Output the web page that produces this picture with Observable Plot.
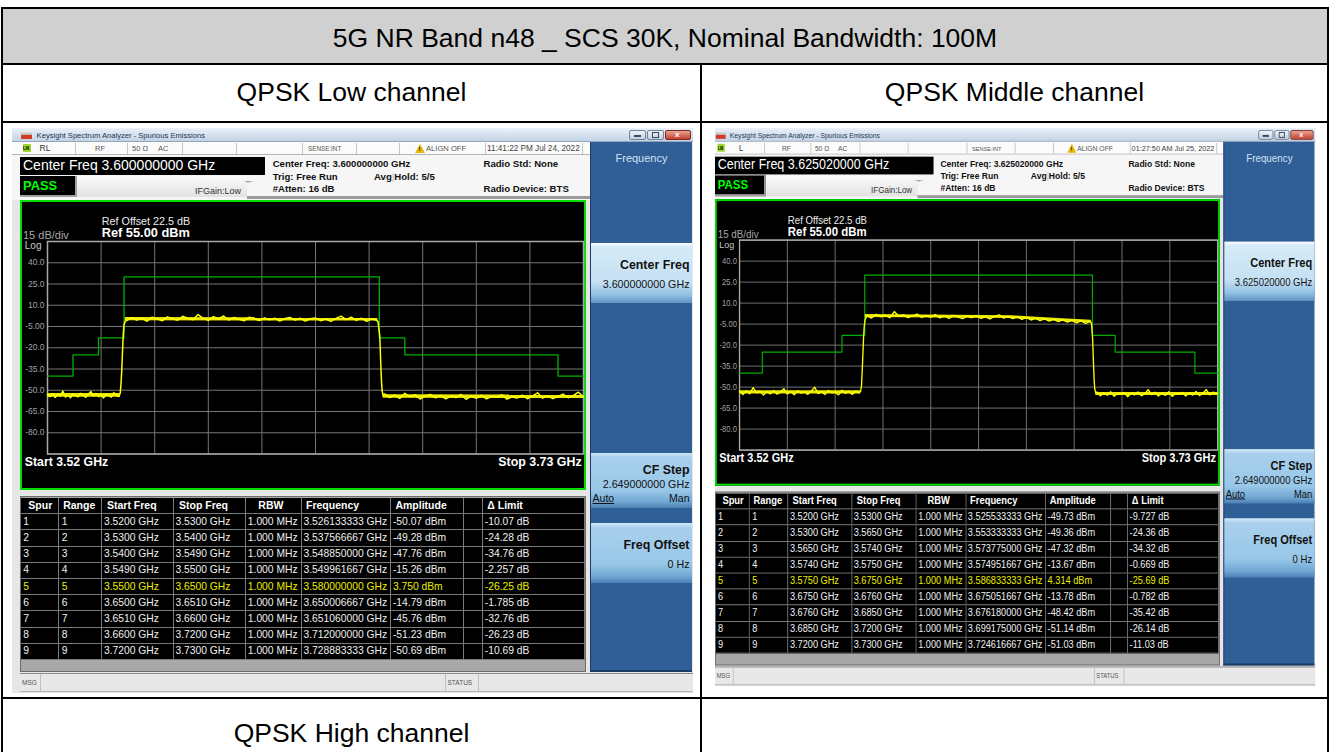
<!DOCTYPE html>
<html>
<head>
<meta charset="utf-8">
<script src="https://cdn.jsdelivr.net/npm/d3@7"></script>
<script src="https://cdn.jsdelivr.net/npm/@observablehq/plot@0.6"></script>
<style>
html,body{margin:0;padding:0;background:#fff;}
body{width:1340px;height:752px;overflow:hidden;font-family:"Liberation Sans",Arial,Helvetica,sans-serif;}
#page{position:relative;width:1340px;height:752px;overflow:hidden;}
</style>
</head>
<body>
<div id="page"></div>
<script>
// ================= DATA =================
const chartTitle = "5G NR Band n48 _ SCS 30K, Nominal Bandwidth: 100M";
const cellTitles = ["QPSK Low channel", "QPSK Middle channel", "QPSK High channel"];

const xGridTicks = [3.520, 3.541, 3.562, 3.583, 3.604, 3.625, 3.646, 3.667, 3.688, 3.709, 3.730];
const yGridTicks = [55, 40, 25, 10, -5, -20, -35, -50, -65, -80, -95];
const yTickValues = [40, 25, 10, -5, -20, -35, -50, -65, -80];
const yTickLabels = ["40.0", "25.0", "10.0", "-5.00", "-20.0", "-35.0", "-50.0", "-65.0", "-80.0"];

const tableHeader = ["Spur", "Range", "Start Freq", "Stop Freq", "RBW", "Frequency", "Amplitude", "", "\u0394 Limit"];
const rbwText = "1.000 MHz";

// Low channel
const lowCenter = "3.600000000";
const lowTime = "11:41:22 PM Jul 24, 2022";
const lowStart = ["3.5200", "3.5300", "3.5400", "3.5490", "3.5500", "3.6500", "3.6510", "3.6600", "3.7200"];
const lowStop = ["3.5300", "3.5400", "3.5490", "3.5500", "3.6500", "3.6510", "3.6600", "3.7200", "3.7300"];
const lowPeakFreq = ["3.526133333", "3.537566667", "3.548850000", "3.549961667", "3.580000000", "3.650006667", "3.651060000", "3.712000000", "3.728883333"];
const lowAmp = ["-50.07", "-49.28", "-47.76", "-15.26", "3.750", "-14.79", "-45.76", "-51.23", "-50.69"];
const lowDelta = ["-10.07", "-24.28", "-34.76", "-2.257", "-26.25", "-1.785", "-32.76", "-26.23", "-10.69"];
const lowLimit = [-40, -25, -13, -13, 30, -13, -13, -25, -40];
// dense core of the noise trace (freq, low, high, segment)
const lowBand = [
  {f: 3.5200, lo: -54.9, hi: -52.3, seg: 0}, {f: 3.5485, lo: -54.9, hi: -52.3, seg: 0},
  {f: 3.5505, lo: -1.0, hi: 1.3, seg: 1}, {f: 3.6494, lo: -1.2, hi: 1.1, seg: 1},
  {f: 3.6515, lo: -55.7, hi: -53.2, seg: 2}, {f: 3.7300, lo: -55.9, hi: -53.4, seg: 2}
];
const lowTrace = [
  [3.520,-53.2],[3.521,-54.6],[3.522,-52.4],[3.523,-55.1],[3.524,-53.0],[3.525,-54.2],[3.526,-50.6],[3.527,-54.8],
  [3.528,-53.4],[3.529,-55.3],[3.530,-52.6],[3.531,-53.9],[3.532,-54.7],[3.533,-52.2],[3.534,-53.6],[3.535,-55.0],
  [3.536,-52.9],[3.537,-50.9],[3.538,-54.1],[3.539,-52.3],[3.540,-54.5],[3.541,-53.3],[3.542,-55.4],[3.543,-52.5],
  [3.544,-53.8],[3.545,-54.9],[3.546,-51.7],[3.547,-53.7],[3.548,-54.4],
  [3.5485,-52.0],[3.5488,-45.5],[3.5491,-36.0],[3.5494,-22.0],[3.5497,-10.0],[3.5500,-3.5],[3.5505,-1.2],
  [3.551,-0.8],[3.553,1.2],[3.555,-0.5],[3.557,0.9],[3.559,-1.3],[3.561,1.6],[3.563,0.2],[3.565,-0.9],
  [3.567,1.8],[3.569,0.4],[3.571,-0.6],[3.573,2.2],[3.575,0.7],[3.577,-0.3],[3.579,3.4],[3.581,0.8],
  [3.583,-0.7],[3.585,1.9],[3.587,0.3],[3.589,2.4],[3.591,-0.4],[3.593,1.3],[3.595,0.1],[3.597,-1.0],
  [3.599,1.5],[3.601,0.5],[3.603,-0.8],[3.605,1.1],[3.607,-0.2],[3.609,0.9],[3.611,-1.2],[3.613,0.6],
  [3.615,1.4],[3.617,-0.5],[3.619,0.8],[3.621,-1.1],[3.623,0.4],[3.625,1.0],[3.627,-0.9],[3.629,0.3],
  [3.631,-1.4],[3.633,0.7],[3.635,2.3],[3.637,-0.2],[3.639,1.6],[3.641,-0.7],[3.643,0.9],[3.645,-1.3],
  [3.647,0.5],[3.649,-0.6],
  [3.6495,-1.8],[3.6499,-7.5],[3.6502,-12.0],[3.6505,-28.0],[3.6508,-42.0],[3.6511,-50.5],[3.6515,-53.8],
  [3.652,-52.6],[3.654,-55.1],[3.656,-53.4],[3.658,-55.8],[3.660,-52.2],[3.662,-54.6],[3.664,-53.1],[3.666,-56.2],
  [3.668,-54.0],[3.670,-52.9],[3.672,-55.4],[3.674,-53.7],[3.676,-56.0],[3.678,-54.3],[3.680,-55.2],[3.682,-53.0],
  [3.684,-56.4],[3.686,-54.1],[3.688,-55.7],[3.690,-53.6],[3.692,-56.1],[3.694,-54.5],[3.696,-55.0],[3.698,-53.2],
  [3.700,-56.3],[3.702,-54.7],[3.704,-55.5],[3.706,-53.5],[3.708,-56.0],[3.710,-54.2],[3.712,-51.8],[3.714,-55.6],
  [3.716,-53.9],[3.718,-55.9],[3.720,-54.4],[3.722,-52.7],[3.724,-55.3],[3.726,-53.8],[3.728,-51.4],[3.730,-54.6]
];

// Middle channel
const midCenter = "3.625020000";
const midTime = "01:27:50 AM Jul 25, 2022";
const midStart = ["3.5200", "3.5300", "3.5650", "3.5740", "3.5750", "3.6750", "3.6760", "3.6850", "3.7200"];
const midStop = ["3.5300", "3.5650", "3.5740", "3.5750", "3.6750", "3.6760", "3.6850", "3.7200", "3.7300"];
const midPeakFreq = ["3.525533333", "3.553333333", "3.573775000", "3.574951667", "3.586833333", "3.675051667", "3.676180000", "3.699175000", "3.724616667"];
const midAmp = ["-49.73", "-49.36", "-47.32", "-13.67", "4.314", "-13.78", "-48.42", "-51.14", "-51.03"];
const midDelta = ["-9.727", "-24.36", "-34.32", "-0.669", "-25.69", "-0.782", "-35.42", "-26.14", "-11.03"];
const midLimit = [-40, -25, -13, -13, 30, -13, -13, -25, -40];
const midBand = [
  {f: 3.5200, lo: -55.0, hi: -52.6, seg: 0}, {f: 3.5732, lo: -55.0, hi: -52.6, seg: 0},
  {f: 3.5752, lo: -0.2, hi: 1.8, seg: 1}, {f: 3.6400, lo: -1.0, hi: 0.9, seg: 1},
  {f: 3.6600, lo: -3.0, hi: -1.0, seg: 1}, {f: 3.6745, lo: -4.2, hi: -2.3, seg: 1},
  {f: 3.6765, lo: -56.0, hi: -53.8, seg: 2}, {f: 3.7300, lo: -56.0, hi: -53.8, seg: 2}
];
const midTrace = [
  [3.5200,-53.0],[3.5215,-55.2],[3.5230,-52.6],[3.5245,-54.7],[3.5260,-50.4],[3.5275,-54.1],[3.5290,-52.9],[3.5305,-55.6],
  [3.5320,-53.3],[3.5335,-54.8],[3.5350,-52.4],[3.5365,-55.0],[3.5380,-53.6],[3.5395,-51.2],[3.5410,-54.9],[3.5425,-53.1],
  [3.5440,-55.4],[3.5455,-52.7],[3.5470,-54.3],[3.5485,-53.5],[3.5500,-55.1],[3.5515,-52.8],[3.5530,-50.1],[3.5545,-54.6],
  [3.5560,-53.2],[3.5575,-55.3],[3.5590,-52.5],[3.5605,-54.0],[3.5620,-53.7],[3.5635,-55.5],[3.5650,-52.3],[3.5665,-54.4],
  [3.5680,-53.0],[3.5695,-55.2],[3.5710,-52.9],[3.5725,-54.1],
  [3.5732,-53.0],[3.5736,-48.5],[3.5739,-38.0],[3.5742,-26.0],[3.5745,-14.0],[3.5748,-6.0],[3.5752,-1.5],
  [3.576,0.8],[3.578,-0.6],[3.580,1.9],[3.582,0.2],[3.584,1.3],[3.586,-0.4],[3.588,3.9],[3.590,0.6],
  [3.592,1.5],[3.594,-0.3],[3.596,0.9],[3.598,2.1],[3.600,-0.2],[3.602,1.0],[3.604,0.1],[3.606,1.7],
  [3.608,-0.5],[3.610,0.7],[3.612,-0.9],[3.614,1.2],[3.616,0.0],[3.618,-1.1],[3.620,0.8],[3.622,-0.4],
  [3.624,1.1],[3.626,-0.8],[3.628,0.3],[3.630,-1.3],[3.632,0.5],[3.634,1.6],[3.636,-0.7],[3.638,0.4],
  [3.640,-1.0],[3.642,0.2],[3.644,-1.5],[3.646,-0.3],[3.648,-2.0],[3.650,-0.9],[3.652,-2.4],[3.654,-1.2],
  [3.656,-2.8],[3.658,-1.6],[3.660,-3.1],[3.662,-1.9],[3.664,-3.6],[3.666,-2.2],[3.668,-4.1],[3.670,-2.6],
  [3.672,-4.5],[3.674,-3.0],
  [3.6745,-4.0],[3.6748,-9.0],[3.6751,-16.0],[3.6754,-30.0],[3.6757,-43.0],[3.6760,-51.0],[3.6765,-54.5],
  [3.6770,-53.6],[3.6785,-56.2],[3.6800,-54.1],[3.6815,-55.8],[3.6830,-53.3],[3.6845,-56.5],[3.6860,-54.7],[3.6875,-55.2],
  [3.6890,-53.9],[3.6905,-56.8],[3.6920,-54.4],[3.6935,-55.6],[3.6950,-53.5],[3.6965,-56.1],[3.6980,-54.8],[3.6995,-51.9],
  [3.7010,-55.4],[3.7025,-53.7],[3.7040,-56.3],[3.7055,-54.2],[3.7070,-55.9],[3.7085,-53.4],[3.7100,-56.6],[3.7115,-54.6],
  [3.7130,-55.1],[3.7145,-53.8],[3.7160,-56.4],[3.7175,-54.0],[3.7190,-55.7],[3.7205,-53.2],[3.7220,-56.0],[3.7235,-54.5],
  [3.7250,-51.8],[3.7265,-55.5],[3.7280,-53.6],[3.7295,-54.9],[3.7300,-54.2]
];

// ================= HELPERS =================
const FONT = "'Liberation Sans',Arial,Helvetica,sans-serif";
function el(parent, css, text) {
  const d = document.createElement("div");
  d.style.cssText = "position:absolute;" + css;
  if (text != null) d.textContent = text;
  parent.appendChild(d);
  return d;
}
function txt(parent, x, cy, text, size, extra = "") {
  return el(parent, `left:${x}px;top:${cy - 0.588 * size}px;font-size:${size}px;line-height:${1.2 * size}px;white-space:nowrap;${extra}`, text);
}
function rtxt(parent, xr, cy, text, size, extra = "") {
  return el(parent, `left:${xr - 400}px;width:400px;text-align:right;top:${cy - 0.588 * size}px;font-size:${size}px;line-height:${1.2 * size}px;white-space:nowrap;${extra}`, text);
}
function ctxt(parent, x1, x2, cy, text, size, extra = "") {
  return el(parent, `left:${x1}px;width:${x2 - x1}px;text-align:center;top:${cy - 0.588 * size}px;font-size:${size}px;line-height:${1.2 * size}px;white-space:nowrap;${extra}`, text);
}

function spectrum(trace, band, start, stop, limit) {
  const limitPts = start.map((s, i) => ({f: +s, v: limit[i]}));
  limitPts.push({f: +stop[stop.length - 1], v: limit[limit.length - 1]});
  const svg = Plot.plot({
    width: 566, height: 219,
    marginLeft: 28, marginRight: 2, marginTop: 3, marginBottom: 3.5,
    x: {domain: [3.52, 3.73], axis: null},
    y: {domain: [-95, 55]},
    style: {background: "transparent", color: "#a3a3a3", fontFamily: FONT, overflow: "visible"},
    marks: [
      Plot.gridX(xGridTicks, {stroke: "#767676", strokeOpacity: 1, strokeWidth: 1}),
      Plot.gridY(yGridTicks, {stroke: "#767676", strokeOpacity: 1, strokeWidth: 1}),
      Plot.frame({stroke: "#a8a8a8", strokeWidth: 1.5}),
      Plot.axisY(yTickValues, {tickSize: 0, tickPadding: 3, fontSize: 8.5, label: null,
        tickFormat: d => yTickLabels[yTickValues.indexOf(d)]}),
      Plot.line(limitPts, {x: "f", y: "v", curve: "step-after", stroke: "#00b000", strokeWidth: 1.3}),
      Plot.areaY(band, {x: "f", y1: "lo", y2: "hi", z: "seg", fill: "#e8e800", fillOpacity: 1}),
      Plot.line(trace, {x: d => d[0], y: d => d[1], stroke: "#ffff00", strokeWidth: 1.5})
    ]
  });
  svg.style.width = "566px";
  svg.style.height = "219px";
  svg.style.maxWidth = "none";
  return svg;
}

function buildScreen(host, s) {
  const scr = el(host, `left:0;top:0;width:681px;height:565px;background:#e6e6e6;overflow:hidden;transform-origin:0 0;transform:${s.transform};font-family:${FONT};`);
  // title bar
  el(scr, "left:0;top:0;width:681px;height:14px;background:linear-gradient(#eaf1f9,#c4d3e5);border-bottom:1px solid #94a6bc;box-sizing:border-box;");
  el(scr, "left:9px;top:3px;width:11px;height:8px;background:linear-gradient(#f4f4f4 0%,#a8a8a8 55%,#d23a2a 55%,#d23a2a 100%);");
  txt(scr, 24.6, 7, "Keysight Spectrum Analyzer - Spurious Emissions", 7.6, "color:#1d3657;");
  el(scr, "left:617px;top:2px;width:17px;height:10px;border:1px solid #6f83a0;border-radius:2px;background:linear-gradient(#eef3f9,#c3d0e0);box-sizing:border-box;");
  el(scr, "left:622px;top:7px;width:7px;height:2px;background:#3a4a60;");
  el(scr, "left:635px;top:2px;width:17px;height:10px;border:1px solid #6f83a0;border-radius:2px;background:linear-gradient(#eef3f9,#c3d0e0);box-sizing:border-box;");
  el(scr, "left:640px;top:4px;width:7px;height:6px;border:1px solid #3a4a60;box-sizing:border-box;");
  el(scr, "left:653px;top:2px;width:26px;height:10px;border:1px solid #7a2a22;border-radius:2px;background:linear-gradient(#eaa494,#c4402f);box-sizing:border-box;");
  txt(scr, 663, 6.8, "x", 8, "color:#fff;font-weight:bold;");

  // status row
  el(scr, "left:0;top:14px;width:578px;height:13px;background:#fbfbfb;border-bottom:1px solid #b5b5b5;box-sizing:border-box;");
  [62.7, 114.5, 170, 223.7, 290, 344, 386.5, 473.4, 569.6].forEach(x => el(scr, `left:${x}px;top:15px;width:1px;height:11px;background:#c4c4c4;`));
  el(scr, "left:11px;top:16px;width:8px;height:8px;background:#9fd82a;");
  txt(scr, 11, 20.2, "LXI", 4.5, "color:#000;font-weight:bold;letter-spacing:-0.4px;");
  txt(scr, s.lxiX, 20.4, s.lxi, 8.5, "color:#333;");
  txt(scr, 83, 20.4, "RF", 7.5, "color:#555;");
  txt(scr, 120, 20.4, "50 \u03a9", 7.5, "color:#555;");
  txt(scr, 146, 20.4, "AC", 7.5, "color:#555;");
  txt(scr, 296, 20.4, "SENSE:INT", 6.3, "color:#555;");
  el(scr, "left:403px;top:16px;width:0;height:0;border-left:5px solid transparent;border-right:5px solid transparent;border-bottom:9px solid #e8b800;");
  txt(scr, 406.6, 21.5, "!", 6, "color:#000;font-weight:bold;");
  txt(scr, 414, 20.4, "ALIGN OFF", 7.6, "color:#555;");
  txt(scr, 475, 20.4, s.time, 8.2, "color:#444;");

  // header
  el(scr, "left:0;top:27px;width:578px;height:45px;background:#f6f6f6;");
  el(scr, "left:8px;top:28.5px;width:245px;height:18.5px;background:#000;");
  txt(scr, 11, 37.7, "Center Freq " + s.cf + " GHz", 14, "color:#fff;");
  el(scr, "left:65px;top:48px;width:170px;height:21px;background:linear-gradient(#fbfbfb,#e2e2e2);");
  el(scr, "left:8px;top:48px;width:57px;height:21px;background:#000;border-right:2px solid #a0a0a0;border-bottom:2px solid #a0a0a0;box-sizing:border-box;");
  txt(scr, 11, 57.7, "PASS", 12.9, "color:#00ff00;font-weight:bold;");
  txt(scr, 183, 63.7, "IFGain:Low", 9, "color:#333;");
  txt(scr, 231, 53.3, "\u2192\u2190", 7, "color:#333;letter-spacing:-2.5px;");
  const B = "font-weight:bold;color:#111;";
  txt(scr, 260.7, 35.3, "Center Freq: " + s.cf + " GHz", 9.6, B);
  txt(scr, 260.7, 48.7, "Trig: Free Run", 9.6, B);
  const avg = txt(scr, 362, 48.7, "", 9.6, B);
  avg.innerHTML = "Avg<span style='color:#b8b8b8;font-weight:normal'>|</span>Hold: 5/5";
  txt(scr, 260.7, 60.3, "#Atten: 16 dB", 9.6, B);
  txt(scr, 471.5, 35.3, "Radio Std: None", 9.6, B);
  txt(scr, 471.5, 60.3, "Radio Device: BTS", 9.6, B);
  el(scr, "left:235px;top:68px;width:343px;height:2.5px;background:#9a9a9a;");

  // graph panel
  el(scr, "left:8px;top:72px;width:566px;height:290px;background:#000;border:2px solid #00dc00;box-sizing:border-box;");
  const plotHost = el(scr, "left:7px;top:110px;width:566px;height:219px;");
  plotHost.appendChild(spectrum(s.trace, s.band, s.start, s.stop, s.limit));
  txt(scr, 89.7, 93.7, "Ref Offset 22.5 dB", 10.8, "color:#ececec;");
  txt(scr, 89.7, 104.3, "Ref 55.00 dBm", 12.8, "color:#fff;font-weight:bold;");
  txt(scr, 11, 107, "15 dB/div", 11, "color:#a8a8a8;");
  txt(scr, 12.8, 117.5, "Log", 10, "color:#c8c8c8;");
  txt(scr, 12.8, 334.7, "Start  3.52 GHz", 12.3, "color:#fff;font-weight:bold;");
  rtxt(scr, 569.6, 334.7, "Stop 3.73 GHz", 12.4, "color:#fff;font-weight:bold;");

  // spur table
  const colL = [0, 38.4, 81.7, 153.2, 225.5, 281.2, 370.6, 443.2, 462.5];
  const colR = [38.4, 81.7, 153.2, 225.5, 281.2, 370.6, 443.2, 462.5, 564.2];
  const hdrPad = [8, 4.5, 5, 5.5, 12.5, 4.5, 4.5, 0, 4.5];
  const tbl = el(scr, "left:7.8px;top:368px;width:566.2px;height:176px;background:#a8a8a8;border:1px solid #6c6c6c;box-sizing:border-box;");
  const rowH = 16.2;
  const rows = [tableHeader].concat(s.start.map((st, i) => [
    String(i + 1), String(i + 1), st + " GHz", s.stop[i] + " GHz", rbwText,
    s.peak[i] + " GHz", s.amp[i] + " dBm", "", s.delta[i] + " dB"
  ]));
  rows.forEach((r, k) => {
    const y = 1 + rowH * k;
    r.forEach((t, c) => {
      const cell = el(tbl, `left:${colL[c]}px;top:${y}px;width:${colR[c] - colL[c]}px;height:${rowH}px;background:#000;border-right:1px solid #7a7a7a;border-bottom:1px solid #7a7a7a;box-sizing:border-box;`);
      if (!t) return;
      if (k === 0) txt(cell, hdrPad[c] - 0.5, 7.6, t, 10.5, "color:#fff;font-weight:bold;");
      else txt(cell, c < 2 ? 2.5 : 1.5, 7.6, t, 10.3, `color:${k === 5 ? "#eded00" : "#f0f0f0"};`);
    });
  });

  // softkey panel
  el(scr, "left:578px;top:14px;width:102px;height:530px;background:#2f5f96;border-left:1px solid #1c3c62;border-bottom:2px solid #1c3c62;box-sizing:border-box;");
  ctxt(scr, 579, 680, 30.5, "Frequency", 11, "color:#d2e3f4;");
  const selGrad = "linear-gradient(#ffffff 0%,#d6ebf8 6%,#c4e0f3 65%,#94c2e4 86%,#5f93c4 100%)";
  const btnGrad = "linear-gradient(#d2e9f7 0%,#a9d0ed 8%,#98c7e8 68%,#73a9d4 88%,#4d80b5 100%)";
  el(scr, `left:579px;top:115px;width:101px;height:60px;background:${selGrad};`);
  rtxt(scr, 677.5, 137, "Center Freq", 12.4, B);
  rtxt(scr, 677.5, 156, s.cf + " GHz", 10.7, "color:#111;");
  el(scr, `left:579px;top:325px;width:101px;height:55px;background:${btnGrad};`);
  rtxt(scr, 677.5, 342, "CF Step", 12.4, B);
  rtxt(scr, 677.5, 356.5, "2.649000000 GHz", 10.7, "color:#111;");
  txt(scr, 580.6, 370, "Auto", 10.5, "color:#111;text-decoration:underline;");
  rtxt(scr, 677.5, 370, "Man", 10.5, "color:#111;");
  el(scr, `left:579px;top:395px;width:101px;height:60px;background:${btnGrad};`);
  rtxt(scr, 677.5, 417, "Freq Offset", 12.4, B);
  rtxt(scr, 677.5, 436, "0 Hz", 10.7, "color:#111;");

  // message bar
  el(scr, "left:8px;top:545px;width:673px;height:19px;background:#e8e8e8;border-top:1px solid #8a8a8a;border-bottom:1px solid #b4b4b4;box-sizing:border-box;");
  [28.4, 433, 466].forEach(x => el(scr, `left:${x}px;top:546px;width:1px;height:17px;background:#c0c0c0;`));
  txt(scr, 10, 555, "MSG", 6.5, "color:#555;");
  txt(scr, 435.5, 555, "STATUS", 6.5, "color:#555;");
  return scr;
}

// ================= PAGE =================
const page = document.getElementById("page");
el(page, "left:3px;top:9px;width:1324px;height:54px;background:#d0d0d0;");
el(page, "left:1px;top:7px;width:1328px;height:2px;background:#000;");
el(page, "left:1px;top:63px;width:1328px;height:2px;background:#000;");
el(page, "left:1px;top:121px;width:1328px;height:2px;background:#000;");
el(page, "left:1px;top:697px;width:1328px;height:2px;background:#000;");
el(page, "left:1px;top:7px;width:2px;height:745px;background:#000;");
el(page, "left:1327px;top:7px;width:2px;height:745px;background:#000;");
el(page, "left:700px;top:63px;width:2px;height:689px;background:#000;");

ctxt(page, 3, 1327, 38.8, chartTitle, 26.5, "color:#000;");
ctxt(page, 3, 700, 93, cellTitles[0], 26.5, "color:#000;");
ctxt(page, 702, 1327, 93, cellTitles[1], 26.5, "color:#000;");
ctxt(page, 3, 700, 734, cellTitles[2], 26.5, "color:#000;");

const h1 = el(page, "left:12px;top:128px;width:681px;height:565px;overflow:hidden;");
buildScreen(h1, {
  transform: "none", lxi: "RL", lxiX: 27.6, time: lowTime, cf: lowCenter,
  start: lowStart, stop: lowStop, peak: lowPeakFreq, amp: lowAmp, delta: lowDelta,
  limit: lowLimit, trace: lowTrace, band: lowBand
});
const h2 = el(page, "left:715px;top:128px;width:603px;height:562px;overflow:hidden;");
buildScreen(h2, {
  transform: "scale(0.892,0.988) translateX(-8px)", lxi: "L", lxiX: 35, time: midTime, cf: midCenter,
  start: midStart, stop: midStop, peak: midPeakFreq, amp: midAmp, delta: midDelta,
  limit: midLimit, trace: midTrace, band: midBand
});
</script>
</body>
</html>
